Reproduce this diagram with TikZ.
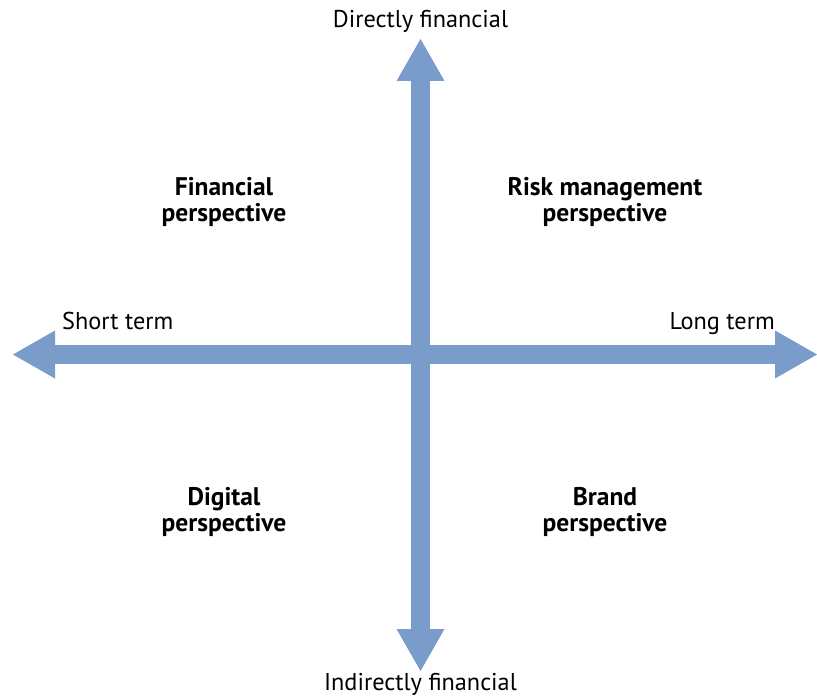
\documentclass[tikz,border=0pt]{standalone}
\usepackage{fontspec}
\setmainfont{PT Sans}
\usetikzlibrary{arrows.meta,positioning}
\definecolor{axisblue}{RGB}{122,156,203}

\begin{document}
\begin{tikzpicture}[x=1pt, y=-1pt,
    tip/.tip={Triangle[length=42pt, width=48pt, line width=0pt]},
    axis/.style={draw=axisblue, line width=19pt, tip-tip},
    axislabel/.style={font=\fontsize{24.3}{27}\selectfont, inner sep=0pt},
    quadrant/.style={font=\bfseries\fontsize{25.5}{26}\selectfont, align=center, inner sep=0pt}]
    \useasboundingbox (0,0) rectangle (817,698);

    % ends of the two axes
    \coordinate (west) at (13,354.5);
    \coordinate (east) at (817,354.5);
    \coordinate (north) at (420.5,39);
    \coordinate (south) at (420.5,671);

    \draw[axis] (west) -- (east);
    \draw[axis] (south) -- (north);

    % axis labels
    \node[axislabel] (direct) at (420.5,21) {Directly financial};
    \node[axislabel] (indirect) at (420.5,684) {Indirectly financial};
    \node[axislabel, anchor=base west] (short) at (62,329) {Short term};
    \node[axislabel, anchor=base east] (long) at (775,329) {Long term};

    % quadrants
    \node[quadrant] (financial) at (224,202) {Financial\\perspective};
    \node[quadrant] (risk) at (605,202) {Risk management\\perspective};
    \node[quadrant] (digital) at (224,512) {Digital\\perspective};
    \node[quadrant] (brand) at (605,512) {Brand\\perspective};
\end{tikzpicture}
\end{document}
